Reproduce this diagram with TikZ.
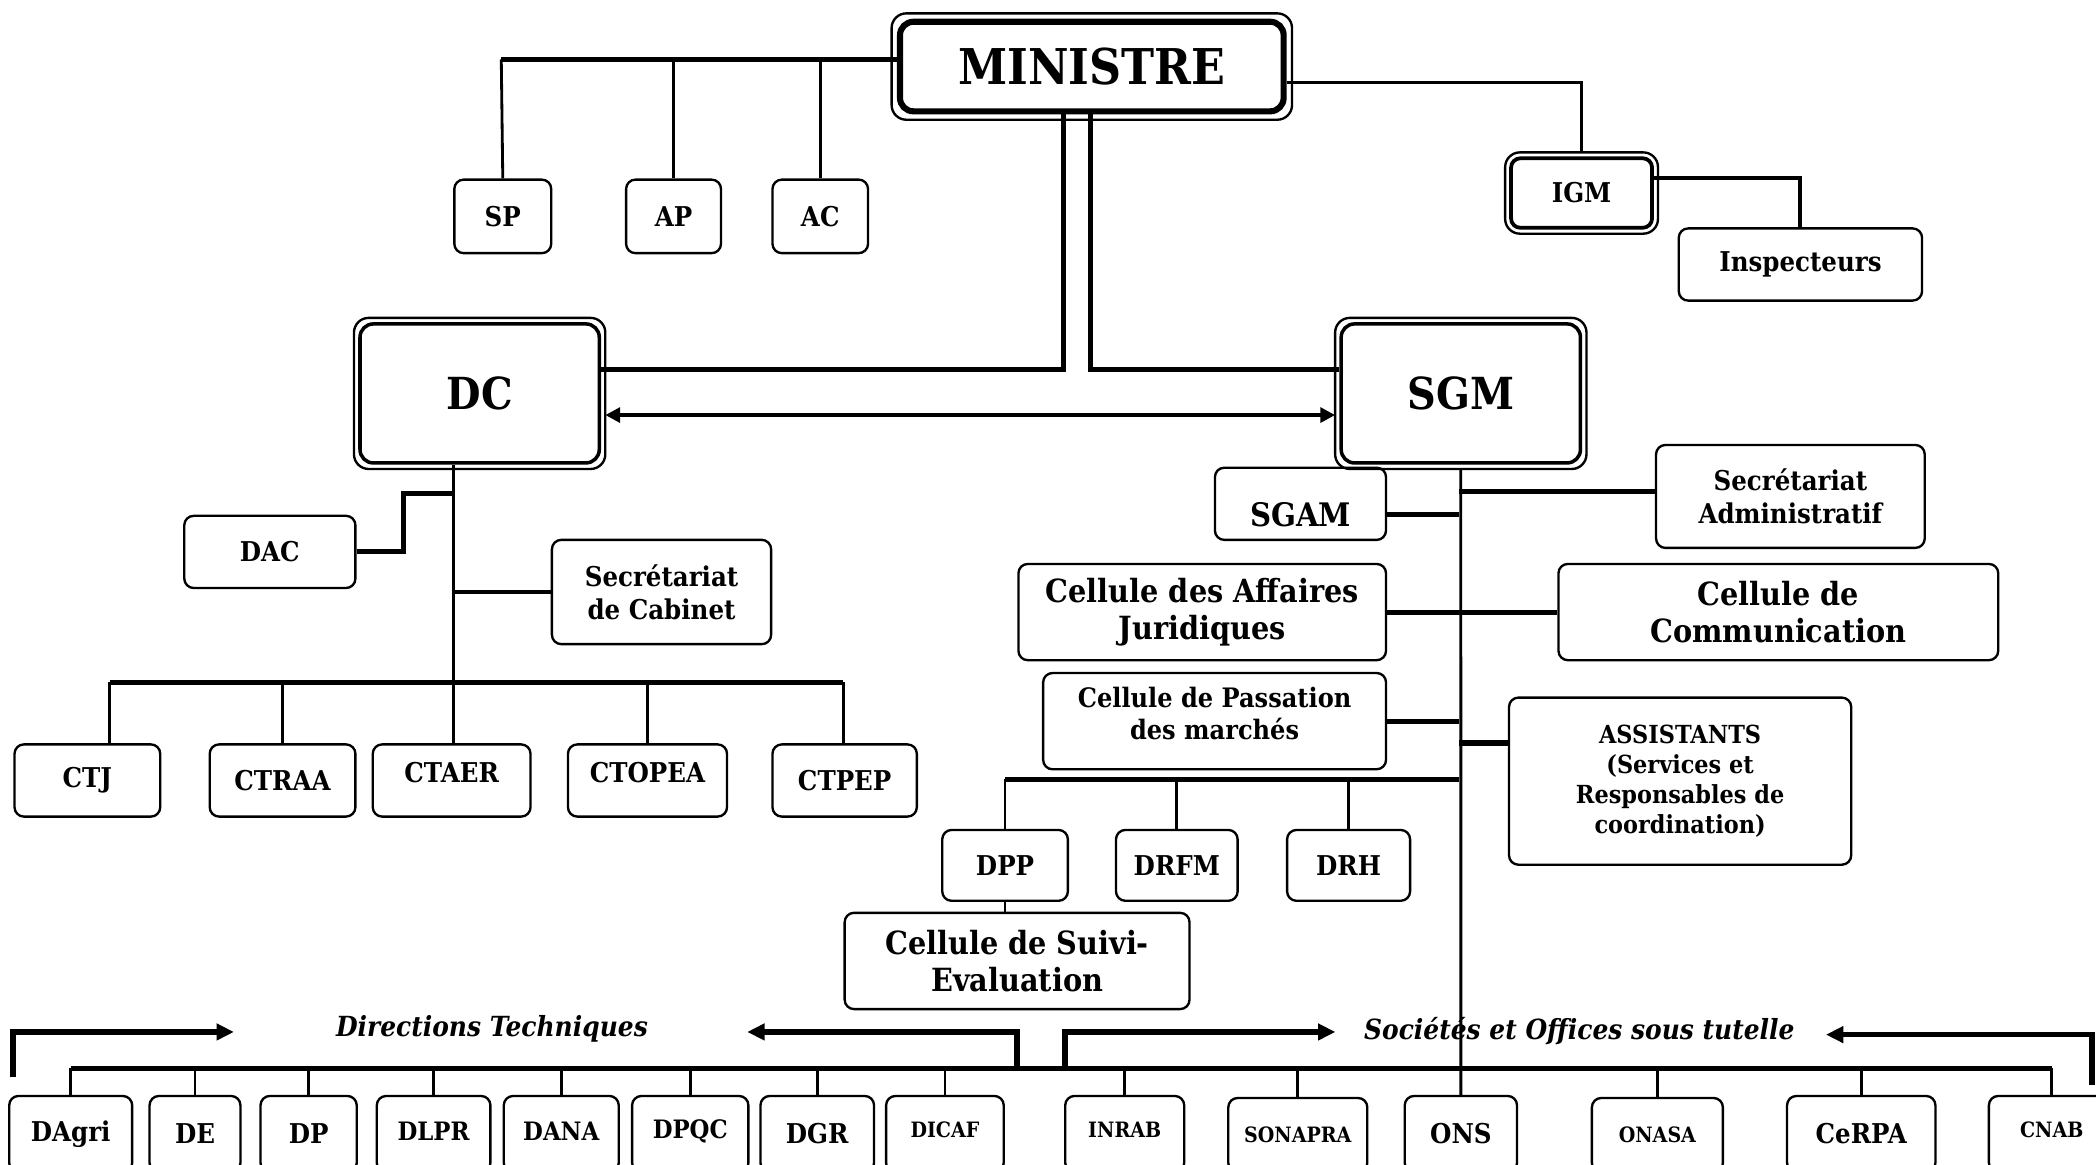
\documentclass[tikz,border=0pt]{standalone}
\usepackage{fontspec}
\setmainfont{DejaVu Serif}[FakeStretch=0.9]
\usetikzlibrary{arrows.meta,calc}
\newcommand\fs[2]{\fontsize{#1}{#2}\selectfont}
\newcommand\liftt[2]{\raisebox{#1}[\height][\depth]{#2}}
\newcommand\bxn[7][]{%
  \pgfmathsetmacro\bxw{(#5-#3)/10}%
  \pgfmathsetmacro\bxh{(#6-#4)/10}%
  \node[box,#1,minimum width=\bxw mm,minimum height=\bxh mm,anchor=north west] (#2) at (#3,#4) {#7};}
\newcommand\frameit[2]{\draw[frame] ([shift={(-#2,#2)}]#1.north west) rectangle ([shift={(#2,-#2)}]#1.south east);}
\tikzset{
  box/.style={draw, line width=0.5pt, rounded corners=0.7mm, inner sep=0pt, align=center, font=\bfseries\fs{5.8}{7}},
  frame/.style={draw, line width=0.5pt, rounded corners=1.1mm},
  big/.style={font=\bfseries\fs{6.8}{8}},
  small/.style={font=\bfseries\fs{4.5}{5.4}},
  mid/.style={font=\bfseries\fs{5.4}{6.5}},
  conn/.style={line width=0.6pt},
  tconn/.style={line width=1.05pt},
  arr/.style={line width=1.2pt, -{Triangle[length=1.3mm,width=1.2mm]}},
  dblarr/.style={line width=0.75pt, {Triangle[length=1.1mm,width=1.1mm]}-{Triangle[length=1.1mm,width=1.1mm]}},
  lab/.style={font=\bfseries\itshape\fs{5.9}{7}, inner sep=0pt},
}
\begin{document}
\begin{tikzpicture}[x=0.1mm,y=-0.1mm]
\useasboundingbox (0,0) rectangle (1568,871);
\clip (0,0) rectangle (1568,871);
\fill[white] (0,0) rectangle (1568,871);

% top
\bxn[line width=1.3pt, rounded corners=1mm, font=\bfseries\fs{10.5}{12}]{min}{671}{14}{958}{81}{MINISTRE}
\frameit{min}{0.4mm}
\bxn{sp}{339}{133.5}{411.5}{188.5}{SP}
\bxn{ap}{467.5}{133.5}{538.5}{188.5}{AP}
\bxn{ac}{577}{133.5}{648.5}{188.5}{AC}
\bxn[line width=0.8pt]{igm}{1129}{117}{1234.5}{169}{IGM}
\frameit{igm}{0.3mm}
\bxn{insp}{1255}{170}{1437}{224}{Inspecteurs}
\bxn[line width=0.75pt, rounded corners=1mm, font=\bfseries\fs{9.4}{11}]{dc}{268}{241}{447}{345}{DC}
\frameit{dc}{0.32mm}
\bxn[line width=0.75pt, rounded corners=1mm, font=\bfseries\fs{9.4}{11}]{sgm}{1002}{241}{1181}{345}{SGM}
\frameit{sgm}{0.32mm}

% DC side
\bxn{dac}{137}{385}{265}{439}{DAC}
\bxn{seccab}{412}{403}{576}{481}{Secrétariat\\de Cabinet}
\bxn{ctj}{10}{556}{119}{610}{CTJ}
\bxn{ctraa}{156}{556}{265}{610}{CTRAA}
\bxn{ctaer}{278}{556}{396}{610}{\liftt{0.6mm}{CTAER}}
\bxn{ctopea}{424}{556}{543}{610}{\liftt{0.6mm}{CTOPEA}}
\bxn{ctpep}{577}{556}{685}{610}{CTPEP}

% SGM side
\bxn[font=\bfseries\fs{6.9}{8}]{sgam}{908}{349}{1036}{403}{\liftt{-0.8mm}{SGAM}}
\bxn{secadm}{1238}{332}{1439}{409}{Secrétariat\\Administratif}
\bxn[big]{caj}{761}{421}{1036}{493}{Cellule des Affaires\\Juridiques}
\bxn[big]{com}{1165}{421}{1494}{493}{Cellule de\\Communication}
\bxn[font=\bfseries\fs{5.7}{6.8}]{cpm}{779.5}{502.6}{1036}{574.6}{\liftt{0.3mm}{\begin{tabular}{@{}c@{}}Cellule de Passation\\des marchés\end{tabular}}}
\bxn[font=\bfseries\fs{5.3}{6.4}]{assist}{1128}{521}{1384}{646}{ASSISTANTS\\(Services et\\Responsables de\\coordination)}
\bxn{dpp}{704}{620}{798}{673}{DPP}
\bxn{drfm}{834}{620}{925}{673}{DRFM}
\bxn{drh}{962}{620}{1054}{673}{DRH}
\bxn[big]{cse}{631}{682}{889}{754}{Cellule de Suivi-\\Evaluation}

% bottom boxes
\bxn{dagri}{6}{819}{98}{876}{DAgri}
\bxn{de}{111}{819}{179}{876}{DE}
\bxn{dp}{194}{819}{266}{876}{DP}
\bxn[mid]{dlpr}{281}{819}{366}{876}{\liftt{0.2mm}{DLPR}}
\bxn[mid]{dana}{376}{819}{462}{876}{\liftt{0.2mm}{DANA}}
\bxn[mid]{dpqc}{472}{819}{559}{876}{\liftt{0.2mm}{DPQC}}
\bxn{dgr}{568}{819}{653}{876}{DGR}
\bxn[small]{dicaf}{662}{819}{750}{876}{\liftt{0.3mm}{DICAF}}
\bxn[small]{inrab}{796}{819}{885}{876}{\liftt{0.3mm}{INRAB}}
\bxn[small]{sonapra}{918}{820.5}{1022}{876}{SONAPRA}
\bxn{ons}{1050}{819}{1134}{876}{ONS}
\bxn[small]{onasa}{1190}{820.5}{1288}{876}{ONASA}
\bxn{cerpa}{1336}{819}{1447}{876}{CeRPA}
\bxn[small]{cnab}{1487}{819}{1581}{876}{\liftt{0.3mm}{CNAB}}

% connectors: ministre
\coordinate (mbar) at (375,44.5);
\draw[tconn] (mbar -| min.west) -- (mbar);
\draw[conn] (mbar) -- (sp.north);
\draw[conn] (ap.north) -- (ap.north |- mbar);
\draw[conn] (ac.north) -- (ac.north |- mbar);
\coordinate (igmy) at (0,61.5);
\draw[conn] (min.east |- igmy) -| ([yshift=0.3mm]igm.north);
\coordinate (inspy) at (0,133.5);
\draw[line width=0.85pt] (igm.east |- inspy) -| (insp.north);
\coordinate (mdc) at (795.5,276.5);
\coordinate (msgm) at (816,276.5);
\draw[tconn] (min.south -| mdc) |- (dc.east |- mdc);
\draw[tconn] (min.south -| msgm) |- (sgm.west |- msgm);
\coordinate (arry) at (0,310.5);
\draw[dblarr, shorten <=0.32mm, shorten >=0.32mm] (dc.east |- arry) -- (sgm.west |- arry);

% DC tree
\coordinate (ctbar) at (339,510.5);
\coordinate (ctbarL) at (82,510.5);
\coordinate (ctbarR) at (631,510.5);
\draw[conn] (dc.south -| ctbar) -- (ctbar);
\coordinate (dacstep) at (302,369);
\draw[tconn] (dac.east) -| (dacstep) -- (dacstep -| ctbar);
\draw[tconn] (seccab.west) -- (seccab.west -| ctbar);
\draw[tconn] (ctbarL) -- (ctbarR);
\draw[conn] (ctbarL) -- (ctbarL |- ctj.north);
\draw[conn] (ctraa.north) -- (ctraa.north |- ctbar);
\draw[conn] (ctbar) -- (ctbar |- ctaer.north);
\draw[conn] (ctopea.north) -- (ctopea.north |- ctbar);
\draw[conn] (ctbarR) -- (ctbarR |- ctpep.north);

% SGM tree
\coordinate (stem) at (1091.5,0);
\draw[conn] ([yshift=-0.32mm]sgm.south) -- (ons.north);
\coordinate (sgamy) at (0,385);
\draw[tconn] (sgam.east |- sgamy) -- (stem |- sgamy);
\coordinate (secy) at (0,367.5);
\draw[tconn] (secadm.west |- secy) -- (stem |- secy);
\draw[tconn] (caj.east) -- (com.west);
\draw[tconn] (cpm.east) -- (cpm.east -| stem);
\coordinate (asy) at (0,555.8);
\draw[line width=1.4pt] (assist.west |- asy) -- (stem |- asy);
\coordinate (dbar) at (0,583);
\draw[tconn] (dpp.north |- dbar) -- (stem |- dbar);
\draw[conn] (dpp.north) -- (dpp.north |- dbar);
\draw[conn] (drfm.north) -- (drfm.north |- dbar);
\draw[conn] (drh.north) -- (drh.north |- dbar);
\draw[conn] (dpp.south) -- (dpp.south |- cse.north);

% bottom bar
\coordinate (bbar) at (0,799);
\draw[tconn] (dagri.north |- bbar) -- (cnab.north |- bbar);
\foreach \n in {dagri,de,dp,dlpr,dana,dpqc,dgr,dicaf,inrab,sonapra,onasa,cerpa,cnab}
  \draw[conn] (\n.north) -- (\n.north |- bbar);

% bracket arrows and labels
\node[lab] (dtlab) at (368,770) {Directions Techniques};
\node[lab] (solab) at (1181.5,771) {Sociétés et Offices sous tutelle};
\coordinate (dtL1) at (9.5,806);
\coordinate (dtL2) at (175,772);
\coordinate (dtR1) at (761,800);
\coordinate (dtR2) at (559,772);
\coordinate (soL1) at (796.5,799);
\coordinate (soL2) at (999,772);
\coordinate (soR1) at (1565,812);
\coordinate (soR2) at (1366,774);
\draw[arr] (dtL1) |- (dtL2);
\draw[arr] (dtR1) |- (dtR2);
\draw[arr] (soL1) |- (soL2);
\draw[arr] (soR1) |- (soR2);
\end{tikzpicture}
\end{document}
